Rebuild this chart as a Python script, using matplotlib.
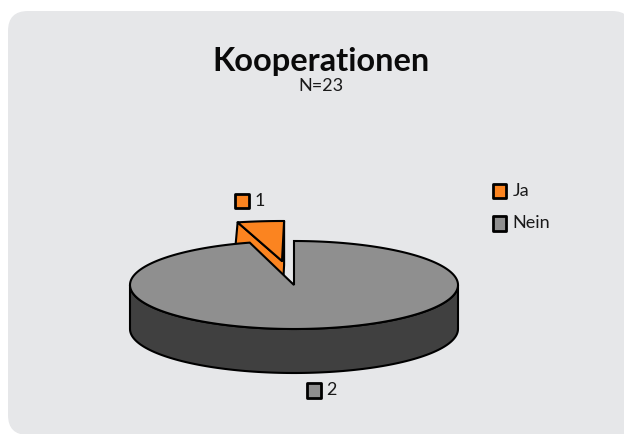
import numpy as np
import matplotlib
matplotlib.use("Agg")
import matplotlib.pyplot as plt
from matplotlib.patches import FancyBboxPatch, Polygon, Rectangle

# === Data ===
labels = ["Ja", "Nein"]
counts = [1, 22]
value_labels = ["1", "2"]
colors = ["#fb8420", "#8f8f8f"]
wall_color = "#404040"
panel_color = "#e6e7e9"

plt.rcParams['font.family'] = ['Lato', 'DejaVu Sans']

# === Pie geometry in pixels ===
cx, cy = 294, 285
rx, ry = 164, 44
depth = 44
ox, oy = 282, 261  # exploded slice apex
o_rx, o_ry = 172, 40
lw = 1.5


def rim(x0, y0, a, b, start, stop, n=120):
    # angles in degrees clockwise from 12 o'clock
    t = np.radians(np.linspace(start, stop, n))
    return np.column_stack([x0 + a * np.sin(t), y0 - b * np.cos(t)])


def swatch(ax, x, y, color):
    ax.add_patch(Rectangle((x, y), 13.5, 14.5, fc=color, ec="black", lw=2, joinstyle="round", zorder=5))


fig = plt.figure(figsize=(6.24, 4.34), dpi=100, facecolor="white")
ax = fig.add_axes([0, 0, 1, 1])
ax.set_xlim(0, 624)
ax.set_ylim(434, 0)
ax.axis("off")

# === Panel, runs off the right and bottom edge ===
ax.add_patch(FancyBboxPatch((8 + 20, 11 + 20), 624 - 40, 424 - 40,
                            boxstyle="round,pad=20,rounding_size=20",
                            fc=panel_color, ec="none", zorder=0))
ax.add_patch(Rectangle((500, 300), 124, 134, fc=panel_color, ec="none", zorder=0))

# === Slices ===
angle = 360 * counts[0] / sum(counts)
a0, a1 = 0.7 - angle, 0.7

# exploded slice: wall first, then top, the big slice covers the rest
top = rim(ox, oy, o_rx, o_ry, a0, a1)
wall = np.vstack([top[0], [ox, oy], top[-1], top[-1] + [0, depth], [ox, oy + depth], top[0] + [-4, depth]])
ax.add_patch(Polygon(wall, fc=colors[0], ec="black", lw=lw, joinstyle="round", zorder=1))
ax.add_patch(Polygon(np.vstack([[ox, oy], top]), fc=colors[0], ec="black", lw=lw, joinstyle="round", zorder=1))

# big slice wall and top
front = rim(cx, cy, rx, ry, 90, 270)
ax.add_patch(Polygon(np.vstack([front, (front + [0, depth])[::-1]]), fc=wall_color, ec="black", lw=lw, zorder=2))
big = rim(cx, cy, rx, ry, 0, 360 - angle, 300)
ax.add_patch(Polygon(np.vstack([[cx, cy], big]), fc=colors[1], ec="black", lw=lw, joinstyle="miter", zorder=3))

# === Title ===
ax.text(321, 61, "Kooperationen", fontsize=23.4, fontweight="bold", ha="center", va="center", color="#0a0a0a")
ax.text(321, 86, "N=23", fontsize=13, ha="center", va="center", color="#1a1a1a")

# === Value labels ===
swatch(ax, 235.3, 193.5, colors[0])
ax.text(254.5, 201, value_labels[0], fontsize=13, va="center", color="#1a1a1a")
swatch(ax, 307, 383, colors[1])
ax.text(326.5, 390, value_labels[1], fontsize=13, va="center", color="#1a1a1a")

# === Legend ===
for name, color, y in zip(labels, colors, [183.5, 216]):
    swatch(ax, 492.7, y, color)
    ax.text(512.5, y + 7, name, fontsize=13, va="center", color="#1a1a1a")

fig.savefig("out.png", dpi=100, facecolor="white")
